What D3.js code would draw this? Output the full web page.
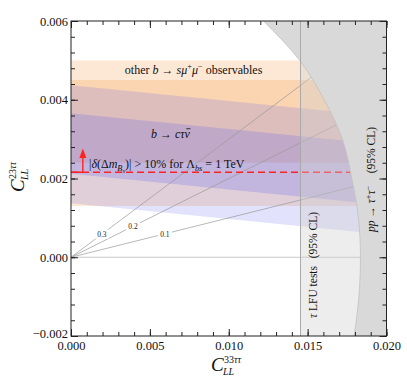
<!DOCTYPE html>
<html>
<head>
<meta charset="utf-8">
<script src="https://cdn.jsdelivr.net/npm/d3@7"></script>
<style>
  body { margin: 0; background: #fff; }
  svg text { font-family: "Liberation Serif", "DejaVu Serif", serif; }
</style>
</head>
<body>
<svg id="chart"></svg>
<script>
// Chart dimensions
const width = 407;
const height = 386;

// Axis data
const xDomain = [0, 0.02];
const yDomain = [-0.002, 0.006];
const xTicks = [0, 0.005, 0.01, 0.015, 0.02];
const yTicks = [-0.002, 0, 0.002, 0.004, 0.006];

// other b -> s mu mu (flat bands): [bottom, top]
const bsmmOuter = [0.0013, 0.0050];
const bsmmInner = [0.0024, 0.0045];

// b -> c tau nu (sloped bands): intercepts at x=0, common slope
const bctnSlope = -0.04;
const bctnOuter = [0.00137, 0.00437];
const bctnInner = [0.00212, 0.00366];

// rays y = k x
const rayK = [0.1, 0.2, 0.3];
const rayLabelX = [0.00595, 0.00393, 0.00196];

// Bs mixing line
const dmBs = 0.00216;

// tau LFU tests boundary
const lfuX = 0.01455;

// pp -> tau tau boundary
const ppY = [-0.002, -0.001, 0, 0.001, 0.002, 0.003, 0.004, 0.005, 0.006];
const ppX = [0.01795, 0.01825, 0.01835, 0.01822, 0.01780, 0.01720, 0.01605, 0.01450, 0.01220];

// Scales
const x = d3.scaleLinear().domain(xDomain).range([71, 386.5]);
const y = d3.scaleLinear().domain(yDomain).range([336, 21]);

const svg = d3.select("#chart")
  .attr("width", width)
  .attr("height", height);

svg.append("defs").append("clipPath")
  .attr("id", "plot-clip")
  .append("rect")
  .attr("x", x(0)).attr("y", y(0.006))
  .attr("width", x(0.02) - x(0)).attr("height", y(-0.002) - y(0.006));

const plot = svg.append("g").attr("clip-path", "url(#plot-clip)");

// Bands
const edgeX = [0, 0.02];
function band(lohi, slope, color, opacity) {
  const area = d3.area()
    .x(d => x(d))
    .y0(d => y(lohi[0] + slope * d))
    .y1(d => y(lohi[1] + slope * d));
  plot.append("path")
    .datum(edgeX)
    .attr("d", area)
    .attr("fill", color)
    .attr("fill-opacity", opacity);
}
band(bsmmOuter, 0, "#f5953f", 0.22);
band(bsmmInner, 0, "#f5953f", 0.24);
band(bctnOuter, bctnSlope, "#5f5ff0", 0.18);
band(bctnInner, bctnSlope, "#5f5ff0", 0.23);

// Rays from origin
rayK.forEach((k, i) => {
  plot.append("line")
    .attr("x1", x(0)).attr("y1", y(0))
    .attr("x2", x(0.02)).attr("y2", y(0.02 * k))
    .attr("stroke", "#9a9a9a")
    .attr("stroke-width", 0.7);
  const lx = x(rayLabelX[i]);
  const ly = y(rayLabelX[i] * k);
  plot.append("rect")
    .attr("x", lx - 7).attr("y", ly - 4.5)
    .attr("width", 14).attr("height", 9)
    .attr("fill", "#fff");
  plot.append("text")
    .attr("x", lx).attr("y", ly + 2.7)
    .attr("text-anchor", "middle")
    .attr("fill", "#222")
    .style("font-size", "7.5px")
    .text(k.toFixed(1));
});

// zero line
plot.append("line")
  .attr("x1", x(0)).attr("x2", x(0.02))
  .attr("y1", y(0)).attr("y2", y(0))
  .attr("stroke", "#bbb").attr("stroke-width", 0.8);

// Bs mixing dashed line + arrow
plot.append("line")
  .attr("x1", x(0)).attr("x2", x(0.02))
  .attr("y1", y(dmBs)).attr("y2", y(dmBs))
  .attr("stroke", "#f22").attr("stroke-width", 1.4)
  .attr("stroke-dasharray", "7,4");
const ax = x(0.00075);
plot.append("line")
  .attr("x1", x(0)).attr("x2", ax)
  .attr("y1", y(dmBs)).attr("y2", y(dmBs))
  .attr("stroke", "#f22").attr("stroke-width", 1.4);
plot.append("line")
  .attr("x1", ax).attr("x2", ax)
  .attr("y1", y(dmBs)).attr("y2", y(0.00255))
  .attr("stroke", "#f22").attr("stroke-width", 1.4);
plot.append("path")
  .attr("d", `M${ax - 3.5},${y(0.00252)} L${ax},${y(0.00276)} L${ax + 3.5},${y(0.00252)} Z`)
  .attr("fill", "#f22");

// LFU region
plot.append("rect")
  .attr("x", x(lfuX)).attr("y", y(0.006))
  .attr("width", x(0.02) - x(lfuX)).attr("height", y(-0.002) - y(0.006))
  .attr("fill", "#cfcfcf").attr("fill-opacity", 0.38);

// pp -> tau tau region
const ppData = ppY.map((v, i) => ({ u: ppX[i], v: v }));
const ppArea = d3.area()
  .y(d => y(d.v))
  .x0(d => x(d.u))
  .x1(x(0.02) + 2)
  .curve(d3.curveMonotoneY);
plot.append("path")
  .datum(ppData)
  .attr("d", ppArea)
  .attr("fill", "#d9d9d9");
plot.append("path")
  .datum(ppData)
  .attr("d", d3.line().x(d => x(d.u)).y(d => y(d.v)).curve(d3.curveMonotoneY))
  .attr("fill", "none")
  .attr("stroke", "#c2c2c2").attr("stroke-width", 0.8);

// LFU boundary line
plot.append("line")
  .attr("x1", x(lfuX)).attr("x2", x(lfuX))
  .attr("y1", y(0.006)).attr("y2", y(-0.002))
  .attr("stroke", "#aaa").attr("stroke-width", 1);

// Rich text helper: parts = [text, {i: italic, s: shift(em), k: size factor}]
function rich(sel, parts, fs) {
  let shift = 0;
  parts.forEach(p => {
    const o = typeof p === "string" ? { t: p } : p;
    const target = (o.s || 0) * fs;
    sel.append("tspan")
      .attr("dy", target - shift)
      .style("font-size", (fs * (o.k || 1)) + "px")
      .style("font-style", o.i ? "italic" : "normal")
      .text(o.t);
    shift = target;
  });
  return sel;
}

// Annotations
rich(svg.append("text")
  .attr("x", x(0.00777)).attr("y", y(0.00466))
  .attr("text-anchor", "middle").attr("fill", "#111"),
  ["other ", { t: "b", i: true }, " \u2192 ", { t: "s\u03bc", i: true },
   { t: "+", s: -0.38, k: 0.7 }, { t: "\u03bc", i: true }, { t: "\u2212", s: -0.38, k: 0.7 },
   { t: " observables" }], 12);

const bctnText = rich(svg.append("text")
  .attr("x", x(0.0063)).attr("y", y(0.00303))
  .attr("text-anchor", "middle").attr("fill", "#111"),
  [{ t: "b", i: true }, " \u2192 ", { t: "c\u03c4\u03bd", i: true }], 12);
// macron over the nu
{
  const node = bctnText.node();
  const n = node.getNumberOfChars();
  const ext = node.getExtentOfChar(n - 1);
  svg.append("line")
    .attr("x1", ext.x + 1.8).attr("x2", ext.x + ext.width + 0.6)
    .attr("y1", y(0.00303) - 9.2).attr("y2", y(0.00303) - 9.2)
    .attr("stroke", "#111").attr("stroke-width", 0.8);
}

rich(svg.append("text")
  .attr("x", x(0.00114)).attr("y", y(0.00226)).attr("fill", "#111"),
  ["|", { t: "\u03b4", i: true }, "(\u0394", { t: "m", i: true },
   { t: "B", i: true, s: 0.25, k: 0.7 }, { t: "s", i: true, s: 0.4, k: 0.55 },
   { t: ")| > 10% for \u039b" }, { t: "bs", i: true, s: 0.25, k: 0.7 },
   { t: " = 1 TeV" }], 12);

// Rotated region labels
const lfuLab = svg.append("g").attr("transform", `translate(${x(lfuX) + 16},318) rotate(-90)`);
rich(lfuLab.append("text").attr("fill", "#111"), [{ t: "\u03c4", i: true }, " LFU tests"], 11.5);
lfuLab.append("text").attr("x", 106).attr("text-anchor", "end").attr("fill", "#111")
  .style("font-size", "11.5px").text("(95% CL)");

const ppLab = svg.append("g").attr("transform", `translate(${x(0.0193)},232) rotate(-90)`);
rich(ppLab.append("text").attr("fill", "#111"),
  [{ t: "pp", i: true }, " \u2192 ", { t: "\u03c4", i: true }, { t: "+", s: -0.38, k: 0.7 },
   { t: "\u03c4", i: true }, { t: "\u2212", s: -0.38, k: 0.7 }], 11.5);
ppLab.append("text").attr("x", 105).attr("text-anchor", "end").attr("fill", "#111")
  .style("font-size", "11.5px").text("(95% CL)");

// Axes
const fmt = d3.format(".3f");
const minorX = d3.range(0, 0.0200001, 0.001);
const minorY = d3.range(-0.002, 0.0060001, 0.0004);

function axis(gen, tr, values, size, labels, pad) {
  const g = svg.append("g")
    .attr("transform", tr)
    .call(gen.tickValues(values).tickSize(-size).tickPadding(pad)
      .tickFormat(labels ? (d => fmt(d).replace("-", "\u2212")) : ""));
  g.select(".domain").remove();
  g.selectAll(".tick line").attr("stroke", "#222").attr("stroke-width", 1);
  g.attr("font-family", null).attr("font-size", null);
  g.selectAll("text").style("font-size", "12.5px").attr("fill", "#111");
  return g;
}
axis(d3.axisBottom(x), `translate(0,${y(-0.002)})`, xTicks, 7, true, 5);
axis(d3.axisBottom(x), `translate(0,${y(-0.002)})`, minorX, 4, false, 3);
axis(d3.axisTop(x), `translate(0,${y(0.006)})`, xTicks, 7, false, 3);
axis(d3.axisTop(x), `translate(0,${y(0.006)})`, minorX, 4, false, 3);
const yAxisG = axis(d3.axisLeft(y), `translate(${x(0)},0)`, yTicks, 7, true, 3);
yAxisG.selectAll("text").filter(d => d < 0).attr("dy", "0.12em");
axis(d3.axisLeft(y), `translate(${x(0)},0)`, minorY, 4, false, 3);
axis(d3.axisRight(y), `translate(${x(0.02)},0)`, yTicks, 7, false, 3);
axis(d3.axisRight(y), `translate(${x(0.02)},0)`, minorY, 4, false, 3);

// Frame
svg.append("rect")
  .attr("x", x(0)).attr("y", y(0.006))
  .attr("width", x(0.02) - x(0)).attr("height", y(-0.002) - y(0.006))
  .attr("fill", "none").attr("stroke", "#222").attr("stroke-width", 1);

// Axis titles
function cLabel(g, sup) {
  g.append("text").attr("x", 0).attr("y", 0).attr("fill", "#111")
    .style("font-size", "19px").style("font-style", "italic").text("C");
  rich(g.append("text").attr("x", 13).attr("y", -8.5).attr("fill", "#111"),
    [{ t: sup.slice(0, 2) }, { t: sup.slice(2), i: true }], 10);
  g.append("text").attr("x", 12).attr("y", 3.5).attr("fill", "#111")
    .style("font-size", "10px").style("font-style", "italic").text("LL");
}
cLabel(svg.append("g").attr("transform", "translate(211,371)"), "33\u03c4\u03c4");
cLabel(svg.append("g").attr("transform", "translate(24,192) rotate(-90)"), "23\u03c4\u03c4");
</script>
</body>
</html>
